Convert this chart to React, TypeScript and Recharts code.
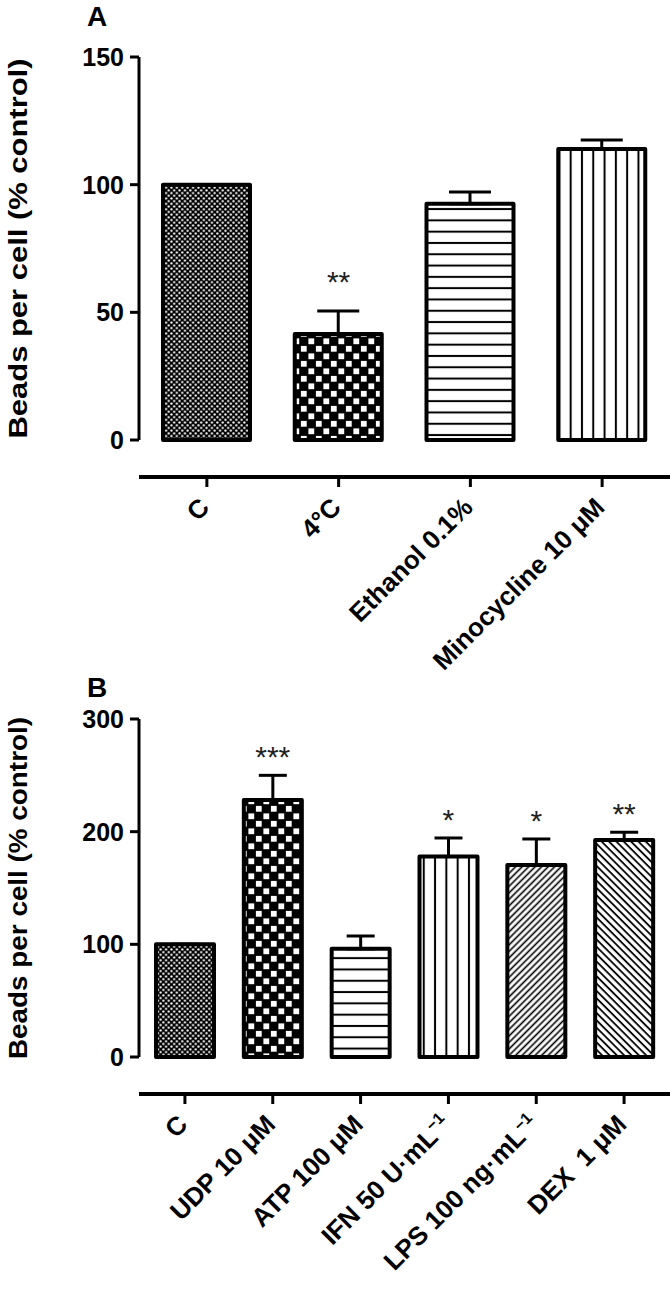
import React from 'react';
import {
  ComposedChart,
  Bar,
  XAxis,
  YAxis,
  ErrorBar,
  Cell,
  Line,
  LabelList,
  Label,
} from 'recharts';

const FONT = '"Liberation Sans", Arial, Helvetica, sans-serif';

// Panel A
const catsA = ['C', '4°C', 'Ethanol 0.1%', 'Minocycline 10 μM'];
const meanA = [100, 41.5, 92.5, 114];
const semA = [0, 9, 4.6, 3.5];
const sigA = ['', '**', '', ''];
const fillA = ['pDots', 'pChecker', 'pH', 'pV'];
const ticksA = [0, 50, 100, 150];

// Panel B
const catsB = ['C', 'UDP 10 μM', 'ATP 100 μM', 'IFN 50 U·mL', 'LPS 100 ng·mL', 'DEX  1 μM'];
const supB = ['', '', '', '−1', '−1', ''];
const meanB = [100, 228, 96, 178, 170.5, 192.5];
const semB = [0, 22, 11.4, 16.4, 23, 7];
const sigB = ['', '***', '', '*', '*', '**'];
const fillB = ['pDots', 'pChecker', 'pH', 'pV', 'pUp', 'pDown'];
const ticksB = [0, 100, 200, 300];

const dataA = catsA.map((name, i) => ({
  name,
  mean: meanA[i],
  err: [0, semA[i]],
  top: meanA[i] + semA[i],
  sig: sigA[i],
  fill: fillA[i],
  sup: '',
}));

const dataB = catsB.map((name, i) => ({
  name,
  mean: meanB[i],
  err: [0, semB[i]],
  top: meanB[i] + semB[i],
  sig: sigB[i],
  fill: fillB[i],
  sup: supB[i],
}));

function Patterns() {
  return (
    <svg width={0} height={0} style={{ position: 'absolute' }}>
      <defs>
        <pattern id="pDots" patternUnits="userSpaceOnUse" width={5.4} height={5.4}>
          <rect width={5.4} height={5.4} fill="#000" />
          <circle cx={1.35} cy={1.35} r={1.15} fill="#fff" />
          <circle cx={4.05} cy={4.05} r={1.15} fill="#fff" />
        </pattern>
        <pattern id="pChecker" patternUnits="userSpaceOnUse" width={15} height={15}>
          <rect width={15} height={15} fill="#000" />
          <rect x={0.9} y={0.9} width={5.8} height={5.8} fill="#fff" />
          <rect x={8.4} y={8.4} width={5.8} height={5.8} fill="#fff" />
        </pattern>
        <pattern id="pH" patternUnits="userSpaceOnUse" width={10} height={11.3}>
          <rect width={10} height={11.3} fill="#fff" />
          <rect y={4.65} width={10} height={2} fill="#000" />
        </pattern>
        <pattern id="pV" patternUnits="userSpaceOnUse" width={11.3} height={10}>
          <rect width={11.3} height={10} fill="#fff" />
          <rect x={4.65} width={2} height={10} fill="#000" />
        </pattern>
        <pattern id="pUp" patternUnits="userSpaceOnUse" width={4.6} height={10} patternTransform="rotate(45)">
          <rect width={4.6} height={10} fill="#fff" />
          <rect x={1.5} width={1.6} height={10} fill="#000" />
        </pattern>
        <pattern id="pDown" patternUnits="userSpaceOnUse" width={5.2} height={10} patternTransform="rotate(-45)">
          <rect width={5.2} height={10} fill="#fff" />
          <rect x={1.6} width={1.8} height={10} fill="#000" />
        </pattern>
      </defs>
    </svg>
  );
}

function YLabel(props: any) {
  const { len, cy } = props;
  const cx = 18;
  return (
    <text
      x={cx}
      y={cy}
      transform={`rotate(-90, ${cx}, ${cy})`}
      textAnchor="middle"
      dominantBaseline="central"
      fontSize={26}
      fontWeight="bold"
      fontFamily={FONT}
      fill="#000"
      textLength={len}
      lengthAdjust="spacingAndGlyphs"
    >
      Beads per cell (% control)
    </text>
  );
}

function XTick(props: any) {
  const { x, y, payload, data, fs } = props;
  const idx = props.index ?? payload.index ?? 0;
  const sup = data && data[idx] ? data[idx].sup : '';
  return (
    <g transform={`translate(${x + 4},${y + 20})`}>
      <text
        x={0}
        y={0}
        textAnchor="end"
        transform="rotate(-45)"
        fontSize={fs}
        fontWeight="bold"
        fontFamily={FONT}
        fill="#000"
        style={{ whiteSpace: 'pre' }}
      >
        {payload.value}
        {sup ? (
          <tspan dy={-10} fontSize={fs * 0.62}>
            {sup}
          </tspan>
        ) : null}
      </text>
    </g>
  );
}

function Star(props: any) {
  const { x, y, width, value, off } = props;
  if (!value) return null;
  const cx = x + (width || 0) / 2;
  return (
    <text x={cx} y={y - off} textAnchor="middle" fontSize={30} fontFamily={FONT} fill="#222">
      {value}
    </text>
  );
}

function Panel(props: any) {
  const { data, ticks, domain, top, height, labelLen, axisBHeight, bottom, barSize, capW, starOff, fs } = props;
  const plotH = height - top - bottom - axisBHeight - 37;
  return (
    <ComposedChart
      width={670}
      height={height}
      data={data}
      margin={{ top, right: 0, left: 0, bottom }}
      style={{ overflow: 'visible' }}
    >
      <YAxis
        yAxisId="main"
        width={105}
        domain={domain}
        ticks={ticks}
        interval={0}
        tickSize={9}
        tickMargin={6}
        axisLine={{ stroke: '#000', strokeWidth: 3 }}
        tickLine={{ stroke: '#000', strokeWidth: 3 }}
        tick={{ fill: '#000', fontSize: 25, fontWeight: 'bold', fontFamily: FONT }}
      >
        <Label content={<YLabel len={labelLen} cy={top + plotH / 2} />} />
      </YAxis>
      <YAxis yAxisId="sp" width={34} axisLine={false} tickLine={false} tick={false} />
      <XAxis
        xAxisId="a"
        dataKey="name"
        height={37}
        axisLine={false}
        tickLine={false}
        tick={false}
        padding={{ left: 2, right: 2 }}
      />
      <XAxis
        xAxisId="b"
        dataKey="name"
        height={axisBHeight}
        padding={{ left: 2, right: 2 }}
        interval={0}
        tickSize={10}
        axisLine={{ stroke: '#000', strokeWidth: 4 }}
        tickLine={{ stroke: '#000', strokeWidth: 3 }}
        tick={<XTick data={data} fs={fs} />}
      />
      <Bar
        xAxisId="a"
        yAxisId="main"
        dataKey="mean"
        barSize={barSize}
        stroke="#000"
        strokeWidth={4}
        strokeLinejoin="round"
        isAnimationActive={false}
      >
        {data.map((d: any, i: number) => (
          <Cell key={i} fill={`url(#${d.fill})`} />
        ))}
        <ErrorBar dataKey="err" width={capW} strokeWidth={3} stroke="#000" direction="y" />
      </Bar>
      <Line
        xAxisId="a"
        yAxisId="main"
        dataKey="top"
        stroke="none"
        dot={false}
        activeDot={false}
        legendType="none"
        isAnimationActive={false}
      >
        <LabelList dataKey="sig" content={<Star off={starOff} />} />
      </Line>
    </ComposedChart>
  );
}

const titleStyle: React.CSSProperties = {
  position: 'absolute',
  fontFamily: FONT,
  fontWeight: 'bold',
  fontSize: 28,
  lineHeight: '28px',
  color: '#000',
};

export default function App() {
  return (
    <div style={{ position: 'absolute', left: 0, top: 0, width: 670, height: 1298, background: '#fff', overflow: 'hidden' }}>
      <Patterns />
      <div style={{ position: 'absolute', left: 0, top: 0 }}>
        <Panel
          data={dataA}
          ticks={ticksA}
          domain={[0, 150]}
          top={57}
          height={720}
          bottom={53}
          axisBHeight={190}
          labelLen={380}
          barSize={87}
          capW={21}
          starOff={19}
          fs={26}
        />
      </div>
      <div style={{ position: 'absolute', left: 0, top: 670 }}>
        <Panel
          data={dataB}
          ticks={ticksB}
          domain={[0, 300]}
          top={49}
          height={628}
          bottom={4}
          axisBHeight={200}
          labelLen={342}
          barSize={58}
          capW={14}
          starOff={8}
          fs={26}
        />
      </div>
      <div style={{ ...titleStyle, left: 87, top: 3 }}>A</div>
      <div style={{ ...titleStyle, left: 87, top: 674 }}>B</div>
    </div>
  );
}
